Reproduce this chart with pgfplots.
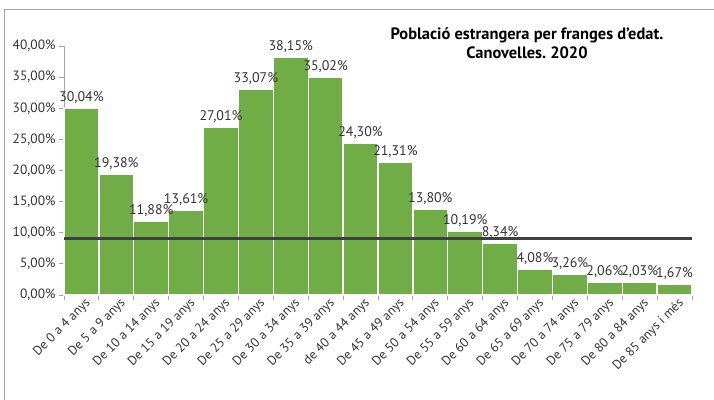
\documentclass[border=0pt]{standalone}
\usepackage{fontspec}
\setmainfont{PT Sans}
\usepackage{pgfplots}
\pgfplotsset{compat=1.18}
\frenchspacing
\definecolor{barg}{HTML}{70AD47}
\definecolor{txt}{HTML}{333333}
\definecolor{axg}{HTML}{A6A6A6}
\definecolor{linec}{HTML}{404040}

\pgfplotstableread{
x y
0 30.04
1 19.38
2 11.88
3 13.61
4 27.01
5 33.07
6 38.15
7 35.02
8 24.30
9 21.31
10 13.80
11 10.19
12 8.34
13 4.08
14 3.26
15 2.06
16 2.03
17 1.67
}\edat

\begin{document}
\begin{tikzpicture}
\useasboundingbox (-64bp,-105bp) rectangle (650bp,295bp);
\draw[axg, line width=1bp] (-59bp,285bp) rectangle (720bp,-130bp);
\node[font=\bfseries\fontsize{16.5}{19}\selectfont, align=center, text=black]
  at (463bp,252bp) {Població estrangera per franges d'edat.\\Canovelles. 2020};
\begin{axis}[
  at={(0bp,0bp)}, anchor=south west, scale only axis,
  width=628bp, height=249bp,
  xmin=-0.5, xmax=17.5, ymin=0, ymax=40,
  axis x line*=bottom, axis y line*=left,
  axis line style={axg, line width=0.8bp},
  /pgf/number format/assume math mode=true,
  ytick={0,5,...,40},
  yticklabel={\pgfmathprintnumber[fixed,fixed zerofill,precision=2,use comma]{\tick}\%},
  y tick label style={font=\fontsize{13.5}{15}\selectfont, text=txt},
  tick style={axg, line width=0.8bp},
  tick align=outside, major tick length=5bp,
  xtick={-0.5,0.5,...,17.5},
  xticklabels={},
  extra x ticks={0,...,17},
  extra x tick labels={De 0 a 4 anys,De 5 a 9 anys,De 10 a 14 anys,De 15 a 19 anys,De 20 a 24 anys,De 25 a 29 anys,De 30 a 34 anys,De 35 a 39 anys,de 40 a 44 anys,De 45 a 49 anys,De 50 a 54 anys,De 55 a 59 anys,De 60 a 64 anys,De 65 a 69 anys,De 70 a 74 anys,De 75 a 79 anys,De 80 a 84 anys,De 85 anys i més},
  extra x tick style={major tick length=0pt,
    tick label style={rotate=45, anchor=north east, font=\fontsize{13}{15}\selectfont, text=txt, xshift=4bp}},
  clip=false,
]
\addplot[ybar, bar width=1, fill=barg, draw=white, line width=1.4bp,
  nodes near coords={\pgfmathprintnumber[fixed,fixed zerofill,precision=2,use comma]{\pgfplotspointmeta}\%},
  every node near coord/.append style={font=\fontsize{14}{16}\selectfont, text=txt, inner sep=2bp, yshift=2bp}]
  table[x=x,y=y] {\edat};
\addplot[linec, line width=3bp, no marks] coordinates {(-0.5,9) (17.5,9)};
\end{axis}
\end{tikzpicture}
\end{document}
